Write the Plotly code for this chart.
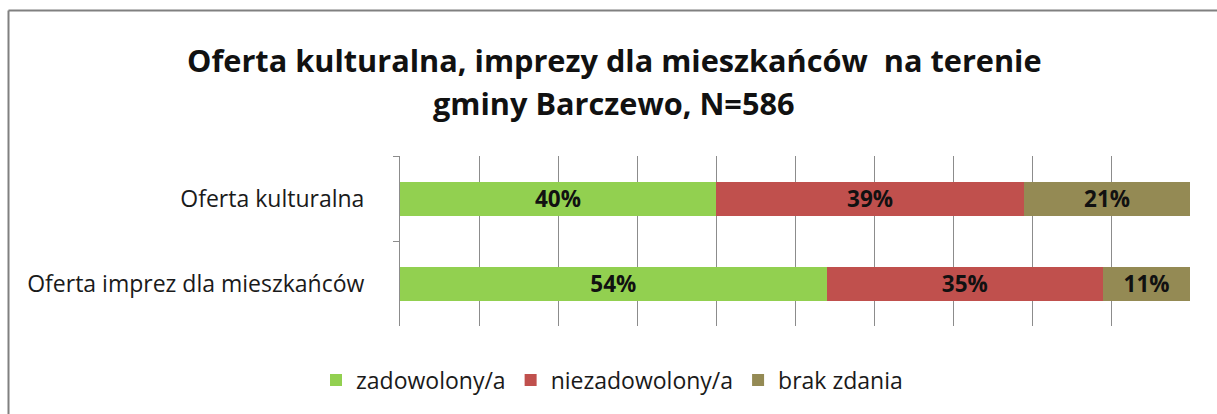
import plotly.graph_objects as go

W, H = 1217, 414

categories = ["Oferta kulturalna", "Oferta imprez dla mieszkańców"]
series_names = ["zadowolony/a", "niezadowolony/a", "brak zdania"]
zadowolony = [40, 54]
niezadowolony = [39, 35]
brak_zdania = [21, 11]
series_values = [zadowolony, niezadowolony, brak_zdania]
colors = ["#92D050", "#C0504D", "#948A54"]

title_lines = ["Oferta kulturalna, imprezy dla mieszkańców\u00a0 na terenie",
               "gminy Barczewo, N=586"]

FONT = "Open Sans"

fig = go.Figure()
for name, vals, col in zip(series_names, series_values, colors):
    fig.add_trace(go.Bar(
        y=categories, x=vals, name=name, orientation="h",
        marker=dict(color=col, line=dict(width=0)),
        width=0.4,
        texttemplate="%{x}%", textposition="inside",
        insidetextanchor="middle", textangle=0, constraintext="none",
        textfont=dict(family=FONT, size=22.5, color="#111111", weight="bold"),
        hoverinfo="skip",
    ))

# plot area placement in pixels
px_l, px_r, px_t, px_b = 400, 1190, 156, 326

fig.update_layout(
    width=W, height=H,
    barmode="stack",
    margin=dict(l=0, r=0, t=0, b=0),
    paper_bgcolor="white", plot_bgcolor="white",
    font=dict(family=FONT, color="#1a1a1a"),
    xaxis=dict(
        domain=[px_l / W, px_r / W], range=[0, 100],
        dtick=10, showgrid=True, gridcolor="#8c8c8c", gridwidth=1,
        showticklabels=False, zeroline=False, showline=False, ticks="",
    ),
    yaxis=dict(
        domain=[1 - px_b / H, 1 - px_t / H],
        autorange="reversed", type="category",
        showline=True, linecolor="#8c8c8c", linewidth=1,
        ticks="outside", tickson="boundaries", ticklen=6, tickcolor="#8c8c8c",
        tickfont=dict(family=FONT, size=23, color="#1a1a1a"),
        ticklabelstandoff=30, showgrid=False,
    ),
    showlegend=True,
    legend=dict(
        orientation="h", x=612 / W, xanchor="center", y=1 - 380 / H, yanchor="middle",
        font=dict(family=FONT, size=23, color="#1a1a1a"),
        traceorder="normal", itemwidth=30,
    ),
)

# two-line centred title
for i, line in enumerate(title_lines):
    fig.add_annotation(
        text=line, xref="paper", yref="paper",
        x=614 / W, y=1 - (60 + 43 * i) / H, xanchor="center", yanchor="middle",
        showarrow=False, font=dict(family=FONT, size=30.7, color="#111111", weight="bold"),
    )

# chart frame: top and left edges (the rest runs off the canvas)
frame = dict(color="#808080", width=2)
fig.add_shape(type="line", xref="paper", yref="paper",
              x0=8.5 / W, x1=1.0, y0=1 - 10.5 / H, y1=1 - 10.5 / H, line=frame, layer="below")
fig.add_shape(type="line", xref="paper", yref="paper",
              x0=8.5 / W, x1=8.5 / W, y0=0.0, y1=1 - 10.5 / H, line=frame, layer="below")

fig.write_html("out.html")
